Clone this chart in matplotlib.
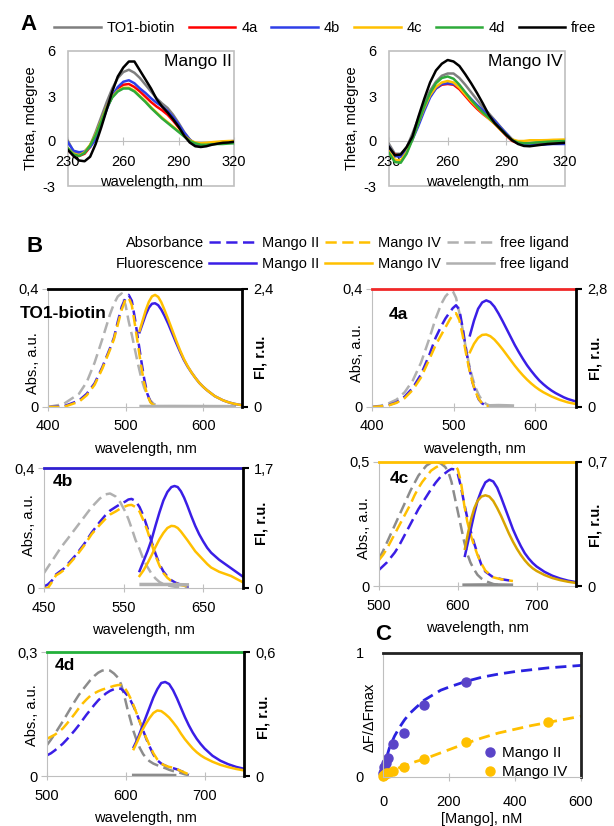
import matplotlib.pyplot as plt
from matplotlib.lines import Line2D
from matplotlib.patches import Rectangle

plt.rcParams['font.family'] = ['Liberation Sans', 'DejaVu Sans']
plt.rcParams['font.size'] = 10.5

W, H = 614, 826

# ---------------- panel A: CD spectra ----------------
cd_wl = [230, 233, 236, 239, 242, 245, 248, 251, 254, 257, 260, 263, 266, 269, 272, 275,
         278, 281, 284, 287, 290, 293, 296, 299, 302, 305, 308, 311, 314, 317, 320]
cd_names = ["TO1-biotin", "4a", "4b", "4c", "4d", "free"]

cd2_to1 = [0.0, -0.7, -0.9, -0.7, -0.3, 0.6, 1.6, 2.6, 3.5, 4.2, 4.6, 4.75, 4.55, 4.2, 3.75, 3.3,
           2.85, 2.5, 2.2, 1.75, 1.2, 0.6, 0.1, -0.2, -0.25, -0.25, -0.2, -0.15, -0.1, -0.08, -0.05]
cd2_4a = [-0.6, -0.95, -1.0, -0.85, -0.4, 0.3, 1.2, 2.2, 3.0, 3.5, 3.75, 3.8, 3.6, 3.3, 2.95, 2.6,
          2.3, 2.05, 1.75, 1.35, 0.9, 0.45, 0.05, -0.25, -0.3, -0.28, -0.2, -0.15, -0.1, -0.08, -0.05]
cd2_4b = [-0.1, -0.65, -0.75, -0.7, -0.4, 0.1, 1.1, 2.1, 3.0, 3.6, 3.95, 4.05, 3.85, 3.5, 3.2, 2.85,
          2.55, 2.3, 2.0, 1.6, 1.1, 0.55, 0.1, -0.2, -0.25, -0.2, -0.15, -0.1, -0.05, -0.02, 0.0]
cd2_4c = [-0.5, -0.85, -0.95, -0.75, -0.25, 0.45, 1.35, 2.25, 2.95, 3.35, 3.55, 3.55, 3.35, 3.0, 2.65, 2.25,
          1.9, 1.55, 1.25, 0.95, 0.65, 0.35, 0.05, -0.1, -0.15, -0.12, -0.08, -0.05, -0.02, 0.0, 0.0]
cd2_4d = [-0.5, -0.9, -1.0, -0.8, -0.3, 0.4, 1.3, 2.2, 2.9, 3.3, 3.5, 3.5, 3.3, 2.95, 2.6, 2.2,
          1.85, 1.5, 1.2, 0.9, 0.6, 0.3, 0.0, -0.15, -0.25, -0.25, -0.22, -0.2, -0.2, -0.17, -0.15]
cd2_free = [-0.6, -1.0, -1.3, -1.35, -1.05, -0.2, 0.9, 2.1, 3.3, 4.3, 4.9, 5.3, 5.3, 4.7, 4.1, 3.5,
            2.8, 2.3, 1.9, 1.45, 0.95, 0.35, -0.1, -0.35, -0.4, -0.35, -0.25, -0.18, -0.12, -0.1, -0.05]

cd4_to1 = [-0.2, -0.85, -0.85, -0.45, 0.5, 1.5, 2.5, 3.35, 3.95, 4.35, 4.5, 4.5, 4.2, 3.75, 3.25, 2.75,
           2.25, 1.85, 1.4, 0.95, 0.5, 0.1, -0.1, -0.2, -0.2, -0.15, -0.12, -0.1, -0.08, -0.06, -0.05]
cd4_4a = [-0.5, -0.9, -1.0, -0.6, 0.2, 1.2, 2.2, 3.0, 3.5, 3.75, 3.8, 3.75, 3.45, 3.0, 2.55, 2.15,
          1.8, 1.5, 1.15, 0.75, 0.35, 0.0, -0.15, -0.2, -0.2, -0.15, -0.12, -0.1, -0.08, -0.06, -0.05]
cd4_4b = [-0.4, -1.0, -1.05, -0.6, 0.1, 1.0, 2.0, 2.9, 3.5, 3.8, 3.85, 3.8, 3.6, 3.2, 2.8, 2.4,
          2.05, 1.7, 1.35, 0.9, 0.5, 0.1, -0.15, -0.25, -0.25, -0.25, -0.25, -0.22, -0.2, -0.2, -0.2]
cd4_4c = [-0.7, -1.25, -1.3, -0.75, 0.15, 1.2, 2.2, 3.05, 3.6, 3.9, 4.0, 3.9, 3.55, 3.1, 2.65, 2.25,
          1.85, 1.5, 1.15, 0.75, 0.4, 0.1, 0.0, 0.0, 0.05, 0.05, 0.05, 0.06, 0.08, 0.09, 0.1]
cd4_4d = [-0.8, -1.4, -1.45, -0.85, 0.1, 1.2, 2.3, 3.2, 3.85, 4.2, 4.3, 4.15, 3.75, 3.25, 2.75, 2.3,
          1.9, 1.55, 1.2, 0.8, 0.4, 0.05, -0.1, -0.15, -0.15, -0.1, -0.08, -0.05, -0.03, -0.01, 0.0]
cd4_free = [-0.4, -0.95, -0.9, -0.4, 0.3, 1.6, 2.8, 3.9, 4.7, 5.15, 5.4, 5.3, 5.0, 4.45, 3.85, 3.2,
            2.5, 1.75, 1.2, 0.8, 0.4, 0.05, -0.2, -0.33, -0.35, -0.3, -0.25, -0.2, -0.18, -0.15, -0.12]

cd_xticks = [230, 260, 290, 320]
cd_yticks = [-3, 0, 3, 6]

# ---------------- panel B: absorbance / fluorescence ----------------
to1_abs_wl = [400, 420, 440, 450, 460, 470, 480, 485, 490, 495, 500, 504, 508, 512, 516, 520,
              524, 528, 532, 536, 540, 548]
to1_abs_m2 = [0.0, 0.002, 0.022, 0.045, 0.08, 0.135, 0.2, 0.235, 0.29, 0.34, 0.37, 0.38, 0.36, 0.3,
              0.23, 0.16, 0.095, 0.045, 0.018, 0.006, 0.002, 0.0]
to1_abs_m4 = [0.0, 0.0, 0.018, 0.04, 0.075, 0.13, 0.195, 0.23, 0.28, 0.33, 0.365, 0.37, 0.345, 0.28,
              0.21, 0.14, 0.08, 0.04, 0.016, 0.006, 0.002, 0.0]
to1_abs_free = [0.0, 0.01, 0.045, 0.085, 0.15, 0.23, 0.315, 0.35, 0.375, 0.385, 0.345, 0.29, 0.245,
                0.195, 0.145, 0.1, 0.065, 0.04, 0.022, 0.011, 0.006, 0.0]
to1_fl_wl = [518, 522, 526, 530, 534, 538, 542, 546, 550, 555, 560, 565, 570, 575, 580, 585, 590,
             595, 600, 605, 610, 615, 620, 625, 630, 635, 640, 645, 650]
to1_fl_m2 = [1.52, 1.7, 1.88, 2.02, 2.1, 2.11, 2.07, 1.98, 1.86, 1.69, 1.5, 1.31, 1.13, 0.96, 0.82,
             0.7, 0.59, 0.49, 0.41, 0.34, 0.28, 0.22, 0.18, 0.14, 0.11, 0.085, 0.065, 0.05, 0.04]
to1_fl_m4 = [1.55, 1.76, 1.97, 2.14, 2.25, 2.28, 2.24, 2.13, 1.98, 1.78, 1.57, 1.36, 1.16, 0.98, 0.83,
             0.7, 0.59, 0.49, 0.41, 0.34, 0.28, 0.22, 0.18, 0.14, 0.11, 0.085, 0.065, 0.05, 0.035]
to1_flfree_wl = [520, 560, 600, 640]
to1_fl_free = [0.01, 0.012, 0.01, 0.008]

c4a_abs_wl = [400, 410, 420, 430, 440, 450, 460, 470, 478, 485, 490, 495, 499, 503, 507, 511, 515,
              519, 523, 527, 531, 535, 540, 545, 555]
c4a_abs_free = [0, 0.004, 0.012, 0.025, 0.05, 0.09, 0.15, 0.23, 0.3, 0.35, 0.375, 0.39, 0.393, 0.37,
                0.32, 0.265, 0.2, 0.145, 0.1, 0.065, 0.04, 0.022, 0.01, 0.004, 0]
c4a_abs_m2 = [0, 0.002, 0.006, 0.016, 0.035, 0.065, 0.11, 0.175, 0.235, 0.275, 0.3, 0.32, 0.335, 0.345,
              0.33, 0.27, 0.2, 0.135, 0.085, 0.05, 0.025, 0.012, 0.005, 0.002, 0]
c4a_abs_m4 = [0, 0.002, 0.005, 0.014, 0.03, 0.058, 0.1, 0.16, 0.21, 0.245, 0.27, 0.295, 0.312, 0.318,
              0.295, 0.245, 0.185, 0.13, 0.085, 0.05, 0.027, 0.012, 0.005, 0.002, 0]
c4a_fl_wl = [520, 525, 530, 535, 540, 545, 550, 555, 560, 565, 570, 575, 580, 585, 590, 595, 600,
             605, 610, 615, 620, 625, 630, 635, 640, 645, 650]
c4a_fl_m2 = [1.7, 2.05, 2.33, 2.48, 2.53, 2.49, 2.38, 2.22, 2.04, 1.85, 1.66, 1.47, 1.3, 1.14, 0.99,
             0.86, 0.74, 0.63, 0.54, 0.46, 0.39, 0.33, 0.28, 0.23, 0.19, 0.16, 0.13]
c4a_fl_m4 = [1.3, 1.5, 1.64, 1.71, 1.72, 1.68, 1.6, 1.49, 1.37, 1.24, 1.11, 0.98, 0.86, 0.75, 0.65,
             0.56, 0.48, 0.41, 0.35, 0.3, 0.25, 0.21, 0.17, 0.14, 0.11, 0.09, 0.07]
c4a_flfree_wl = [545, 555, 565, 572]
c4a_fl_free = [0.03, 0.035, 0.03, 0.025]

c4b_abs_wl = [450, 455, 460, 465, 470, 475, 480, 490, 500, 510, 520, 527, 533, 540, 546, 552, 556,
              560, 565, 570, 575, 580, 585, 590, 595, 600, 605, 610, 615, 620, 625, 632]
c4b_abs_free = [0.05, 0.07, 0.09, 0.11, 0.13, 0.148, 0.165, 0.2, 0.235, 0.27, 0.298, 0.312, 0.315,
                0.305, 0.285, 0.255, 0.23, 0.2, 0.16, 0.13, 0.095, 0.07, 0.048, 0.032, 0.02, 0.013,
                0.009, 0.006, 0.004, 0.002, 0.001, 0.0]
c4b_abs_m2 = [0.005, 0.012, 0.025, 0.045, 0.055, 0.065, 0.08, 0.11, 0.145, 0.185, 0.22, 0.242, 0.258,
              0.27, 0.28, 0.288, 0.295, 0.297, 0.29, 0.27, 0.24, 0.2, 0.155, 0.115, 0.08, 0.055,
              0.038, 0.026, 0.018, 0.013, 0.009, 0.005]
c4b_abs_m4 = [0.0, 0.0, 0.02, 0.042, 0.05, 0.06, 0.075, 0.105, 0.14, 0.18, 0.21, 0.23, 0.245, 0.255,
              0.265, 0.272, 0.276, 0.277, 0.27, 0.255, 0.225, 0.19, 0.148, 0.108, 0.075, 0.05,
              0.034, 0.023, 0.016, 0.011, 0.008, 0.005]
c4b_fl_wl = [570, 575, 580, 585, 590, 595, 600, 605, 610, 614, 618, 622, 626, 630, 635, 640, 645,
             650, 655, 660, 665, 670, 675, 680, 685, 690, 695, 700]
c4b_fl_m2 = [0.24, 0.38, 0.52, 0.68, 0.88, 1.07, 1.24, 1.36, 1.43, 1.445, 1.43, 1.37, 1.28, 1.17, 1.02,
             0.88, 0.76, 0.66, 0.57, 0.5, 0.45, 0.4, 0.36, 0.32, 0.28, 0.24, 0.2, 0.16]
c4b_fl_m4 = [0.17, 0.25, 0.35, 0.46, 0.58, 0.69, 0.78, 0.85, 0.88, 0.875, 0.85, 0.8, 0.74, 0.68, 0.6,
             0.52, 0.46, 0.4, 0.34, 0.29, 0.26, 0.23, 0.21, 0.19, 0.17, 0.14, 0.11, 0.08]
c4b_flfree_wl = [572, 590, 610, 630]
c4b_fl_free = [0.05, 0.05, 0.05, 0.045]

c4c_abs_wl = [500, 505, 510, 515, 520, 525, 530, 535, 540, 545, 550, 555, 560, 566, 572, 578, 584,
              588, 592, 596, 600, 604, 608, 612, 616, 620, 625, 630, 635, 645, 655, 660, 670]
c4c_abs_free = [0.11, 0.14, 0.175, 0.21, 0.245, 0.28, 0.315, 0.35, 0.385, 0.415, 0.445, 0.465, 0.485,
                0.497, 0.5, 0.495, 0.48, 0.46, 0.42, 0.36, 0.3, 0.24, 0.18, 0.13, 0.095, 0.07, 0.045,
                0.03, 0.02, 0.008, 0.003, 0.002, 0.0]
c4c_abs_m2 = [0.065, 0.08, 0.095, 0.115, 0.135, 0.16, 0.19, 0.22, 0.25, 0.28, 0.31, 0.335, 0.36,
              0.39, 0.417, 0.44, 0.455, 0.465, 0.472, 0.47, 0.452, 0.4, 0.335, 0.275, 0.225, 0.18,
              0.13, 0.085, 0.058, 0.035, 0.028, 0.025, 0.02]
c4c_abs_m4 = [0.105, 0.125, 0.15, 0.18, 0.21, 0.24, 0.27, 0.3, 0.33, 0.365, 0.395, 0.42, 0.44, 0.465,
              0.478, 0.488, 0.495, 0.499, 0.5, 0.488, 0.47, 0.42, 0.33, 0.26, 0.21, 0.17, 0.125,
              0.09, 0.062, 0.035, 0.027, 0.025, 0.02]
c4c_fl_wl = [609, 613, 617, 621, 625, 630, 635, 640, 645, 650, 655, 660, 665, 670, 675, 680, 685,
             690, 695, 700, 710, 720, 730, 740, 750]
c4c_fl_m2 = [0.17, 0.25, 0.33, 0.41, 0.48, 0.54, 0.585, 0.6, 0.59, 0.555, 0.5, 0.44, 0.38, 0.32, 0.27,
             0.225, 0.185, 0.155, 0.13, 0.11, 0.08, 0.058, 0.042, 0.03, 0.022]
c4c_fl_m4 = [0.21, 0.3, 0.38, 0.44, 0.48, 0.505, 0.512, 0.505, 0.48, 0.44, 0.395, 0.345, 0.295, 0.25,
             0.21, 0.175, 0.145, 0.12, 0.1, 0.085, 0.062, 0.045, 0.033, 0.024, 0.017]
c4c_flfree_wl = [608, 630, 650, 668]
c4c_fl_free = [0.005, 0.006, 0.006, 0.005]

c4d_abs_wl = [500, 505, 510, 515, 520, 525, 530, 535, 540, 545, 550, 555, 560, 565, 570, 575, 580,
              585, 590, 594, 598, 602, 606, 610, 614, 618, 622, 626, 630, 635, 640, 645, 650, 655,
              660, 665, 670, 675, 680]
c4d_abs_free = [0.075, 0.088, 0.102, 0.117, 0.132, 0.148, 0.164, 0.18, 0.195, 0.208, 0.22, 0.232,
                0.242, 0.25, 0.255, 0.257, 0.255, 0.248, 0.238, 0.222, 0.195, 0.163, 0.135, 0.107,
                0.085, 0.067, 0.053, 0.043, 0.036, 0.03, 0.026, 0.022, 0.019, 0.015, 0.012, 0.01,
                0.007, 0.004, 0.002]
c4d_abs_m2 = [0.05, 0.055, 0.062, 0.07, 0.078, 0.088, 0.099, 0.11, 0.122, 0.135, 0.148, 0.16, 0.172,
              0.183, 0.192, 0.2, 0.206, 0.21, 0.212, 0.211, 0.204, 0.195, 0.183, 0.168, 0.15, 0.13,
              0.11, 0.09, 0.072, 0.052, 0.038, 0.03, 0.025, 0.022, 0.019, 0.016, 0.012, 0.008, 0.004]
c4d_abs_m4 = [0.09, 0.095, 0.1, 0.107, 0.115, 0.126, 0.138, 0.15, 0.163, 0.175, 0.185, 0.194, 0.2,
              0.205, 0.209, 0.212, 0.215, 0.218, 0.22, 0.22, 0.215, 0.203, 0.188, 0.17, 0.15, 0.13,
              0.11, 0.092, 0.075, 0.055, 0.04, 0.03, 0.025, 0.022, 0.02, 0.017, 0.012, 0.008, 0.004]
c4d_fl_wl = [610, 615, 620, 625, 630, 635, 640, 645, 650, 655, 660, 665, 670, 675, 680, 685, 690,
             695, 700, 710, 720, 730, 740, 750]
c4d_fl_m2 = [0.14, 0.18, 0.23, 0.28, 0.33, 0.38, 0.42, 0.45, 0.455, 0.445, 0.415, 0.375, 0.33, 0.285,
             0.245, 0.21, 0.18, 0.155, 0.133, 0.098, 0.074, 0.057, 0.044, 0.035]
c4d_fl_m4 = [0.13, 0.17, 0.215, 0.25, 0.28, 0.305, 0.317, 0.314, 0.3, 0.283, 0.26, 0.235, 0.205,
             0.178, 0.155, 0.133, 0.115, 0.1, 0.088, 0.069, 0.054, 0.043, 0.034, 0.027]
c4d_flfree_wl = [610, 630, 650, 662]
c4d_fl_free = [0.003, 0.003, 0.003, 0.002]

# ---------------- panel C: titration ----------------
c_conc_m2 = [0.98, 1.95, 3.9, 7.8, 15.6, 31.25, 62.5, 125, 250]
c_resp_m2 = [0.03, 0.05, 0.08, 0.11, 0.15, 0.27, 0.355, 0.58, 0.77]
c_conc_m4 = [0.98, 1.95, 3.9, 7.8, 15.6, 31.25, 62.5, 125, 250, 500]
c_resp_m4 = [0.01, 0.015, 0.02, 0.03, 0.035, 0.045, 0.08, 0.145, 0.28, 0.44]
fit_conc = [0, 5, 10, 20, 35, 50, 65, 80, 100, 125, 150, 175, 200, 250, 300, 350, 400, 450, 500, 550, 600]
fit_m2 = [0.02, 0.09, 0.15, 0.24, 0.33, 0.4, 0.46, 0.51, 0.56, 0.62, 0.66, 0.7, 0.725, 0.77, 0.805,
          0.83, 0.85, 0.865, 0.88, 0.89, 0.9]
fit_m4 = [0.01, 0.025, 0.035, 0.045, 0.06, 0.075, 0.09, 0.105, 0.125, 0.145, 0.17, 0.195, 0.22, 0.27,
          0.315, 0.355, 0.385, 0.415, 0.44, 0.465, 0.49]

# colours
BLUE = "#3A1EE6"
ORANGE = "#FFC000"
GOLD = "#D9A400"
GREY_L = "#B0B0B0"
GREY_D = "#8C8C8C"
FRAME = "#BFBFBF"
CD_COLORS = ["#7F7F7F", "#FF0000", "#2F3FE8", "#FFC000", "#2EAA3A", "#000000"]
DASH = (4.5, 2.2)

fig = plt.figure(figsize=(W / 100, H / 100), dpi=100)


def box(l, t, r, b):
    return [l / W, 1 - b / H, (r - l) / W, (b - t) / H]


def cd_panel(px, curves, name):
    ax = fig.add_axes(box(*px))
    w = px[2] - px[0]
    lines = []
    for ys, col in zip(curves, CD_COLORS):
        lines += ax.plot(cd_wl, ys, color=col, lw=1.8)
    ax.set_xlim(230, 320)
    ax.set_ylim(-3, 6)
    for side in ['left', 'top', 'right']:
        ax.spines[side].set_visible(False)
    ax.spines['bottom'].set_position(('data', 0))
    ax.spines['bottom'].set_color(FRAME)
    ax.spines['bottom'].set_zorder(0.5)
    ax.add_patch(Rectangle((0, 0), 1, 1, transform=ax.transAxes, fill=False,
                           ec=FRAME, lw=1.2, clip_on=False, zorder=0))
    ax.set_xticks(cd_xticks)
    ax.set_yticks(cd_yticks, [str(v) for v in cd_yticks])
    ax.tick_params(axis='x', direction='inout', length=6, color=FRAME, pad=7)
    ax.tick_params(axis='y', length=0, pad=9)
    ax.set_xlabel('wavelength, nm')
    ax.xaxis.set_label_coords(0.5, 0.085)
    ax.set_ylabel('Theta, mdegree')
    ax.yaxis.set_label_coords(-30 / w, 0.5)
    ax.text(0.985, 0.925, name, transform=ax.transAxes, ha='right', va='center', fontsize=12.5)
    return lines


lines_a = cd_panel((68, 51, 234, 186), [cd2_to1, cd2_4a, cd2_4b, cd2_4c, cd2_4d, cd2_free], "Mango II")
cd_panel((389, 51, 565, 186), [cd4_to1, cd4_4a, cd4_4b, cd4_4c, cd4_4d, cd4_free], "Mango IV")

fig.legend(lines_a, cd_names, ncol=6, loc='center left', bbox_to_anchor=(54 / W, 1 - 28 / H),
           frameon=False, handlelength=3.2, handletextpad=0.4, columnspacing=0.95,
           borderpad=0, borderaxespad=0, fontsize=10.5)


def spec_panel(px, xlim, xticks, abs_max, abs_lbl, fl_max, fl_lbl, top_col, name, name_x, name_y,
               abs_wl, abs_m2, abs_m4, abs_free, fl_wl, fl_m2, fl_m4, flf_wl, fl_free,
               abs_ylab_y, fl_ylab_y, abs_ylabel='Abs., a.u.', fl4_col=ORANGE,
               free_col=GREY_L, freefl_col=GREY_L):
    ax = fig.add_axes(box(*px))
    w = px[2] - px[0]
    ax.plot(abs_wl, abs_free, color=free_col, lw=1.8, dashes=DASH)
    ax.plot(abs_wl, abs_m2, color=BLUE, lw=1.8, dashes=DASH)
    ax.plot(abs_wl, abs_m4, color=ORANGE, lw=1.8, dashes=DASH)
    ax.set_xlim(*xlim)
    ax.set_ylim(0, abs_max)
    ax.set_xticks(xticks)
    ax.set_yticks([0, abs_max], ['0', abs_lbl])
    ax.spines['right'].set_visible(False)
    ax.spines['left'].set_color(FRAME)
    ax.spines['bottom'].set_color(FRAME)
    ax.spines['top'].set_color(top_col)
    ax.spines['top'].set_linewidth(2)
    ax.tick_params(axis='x', direction='inout', length=6, color=FRAME, pad=6)
    ax.tick_params(axis='y', direction='out', length=4, color=FRAME, pad=3)
    ax.set_xlabel('wavelength, nm', labelpad=6)
    ax.set_ylabel(abs_ylabel)
    ax.yaxis.set_label_coords(-8 / w, abs_ylab_y)
    ax.text(name_x, name_y, name, transform=ax.transAxes, fontweight='bold',
            fontsize=12.5, ha='left', va='center')

    ax2 = ax.twinx()
    ax2.plot(flf_wl, fl_free, color=freefl_col, lw=2.5)
    ax2.plot(fl_wl, fl_m2, color=BLUE, lw=1.8)
    ax2.plot(fl_wl, fl_m4, color=fl4_col, lw=1.8)
    ax2.set_ylim(0, fl_max)
    ax2.set_yticks([0, fl_max], ['0', fl_lbl])
    for side in ['left', 'top', 'bottom']:
        ax2.spines[side].set_visible(False)
    ax2.spines['right'].set_color('black')
    ax2.spines['right'].set_linewidth(2)
    ax2.tick_params(axis='y', direction='out', length=4, width=1.5, color='black', pad=4)
    ax2.set_ylabel('Fl, r.u.', fontweight='bold')
    ax2.yaxis.set_label_coords(1 + 12 / w, fl_ylab_y)
    return ax


spec_panel((48, 289, 242, 407), (400, 650), [400, 500, 600], 0.4, '0,4', 2.4, '2,4', 'black',
           'TO1-biotin', -0.147, 0.79,
           to1_abs_wl, to1_abs_m2, to1_abs_m4, to1_abs_free, to1_fl_wl, to1_fl_m2, to1_fl_m4,
           to1_flfree_wl, to1_fl_free, 0.37, 0.42)
spec_panel((372, 289, 576, 407), (400, 650), [400, 500, 600], 0.4, '0,4', 2.8, '2,8', '#F02828',
           '4a', 0.083, 0.78,
           c4a_abs_wl, c4a_abs_m2, c4a_abs_m4, c4a_abs_free, c4a_fl_wl, c4a_fl_m2, c4a_fl_m4,
           c4a_flfree_wl, c4a_fl_free, 0.46, 0.41, abs_ylabel='Abs, a.u.')
spec_panel((44, 468, 243, 588), (450, 700), [450, 550, 650], 0.4, '0,4', 1.7, '1,7', '#3020D0',
           '4b', 0.045, 0.89,
           c4b_abs_wl, c4b_abs_m2, c4b_abs_m4, c4b_abs_free, c4b_fl_wl, c4b_fl_m2, c4b_fl_m4,
           c4b_flfree_wl, c4b_fl_free, 0.52, 0.54)
spec_panel((379, 462, 576, 586), (500, 750), [500, 600, 700], 0.5, '0,5', 0.7, '0,7', ORANGE,
           '4c', 0.056, 0.87,
           c4c_abs_wl, c4c_abs_m2, c4c_abs_m4, c4c_abs_free, c4c_fl_wl, c4c_fl_m2, c4c_fl_m4,
           c4c_flfree_wl, c4c_fl_free, 0.47, 0.49, fl4_col=GOLD, free_col=GREY_D, freefl_col=GREY_D)
spec_panel((47, 652, 244, 776), (500, 750), [500, 600, 700], 0.3, '0,3', 0.6, '0,6', '#22B03A',
           '4d', 0.04, 0.89,
           c4d_abs_wl, c4d_abs_m2, c4d_abs_m4, c4d_abs_free, c4d_fl_wl, c4d_fl_m2, c4d_fl_m4,
           c4d_flfree_wl, c4d_fl_free, 0.49, 0.47, free_col=GREY_D, freefl_col=GREY_D)

# legend of panel B
row_kw = dict(ncol=3, loc='center left', frameon=False, handlelength=3.2, handletextpad=0.4,
              columnspacing=0.45, borderpad=0, borderaxespad=0, fontsize=10.5)
b_labels = ["Mango II", "Mango IV", "free ligand"]
abs_handles = [Line2D([], [], color=BLUE, lw=1.8, dashes=DASH),
               Line2D([], [], color=ORANGE, lw=1.8, dashes=DASH),
               Line2D([], [], color=GREY_L, lw=1.8, dashes=DASH)]
fl_handles = [Line2D([], [], color=BLUE, lw=1.8),
              Line2D([], [], color=ORANGE, lw=1.8),
              Line2D([], [], color=GREY_L, lw=1.8)]
fig.legend(abs_handles, b_labels, bbox_to_anchor=(209 / W, 1 - 243 / H), **row_kw)
fig.legend(fl_handles, b_labels, bbox_to_anchor=(209 / W, 1 - 264 / H), **row_kw)
fig.text(204 / W, 1 - 243 / H, "Absorbance", ha='right', va='center', fontsize=10.5)
fig.text(204 / W, 1 - 264 / H, "Fluorescence", ha='right', va='center', fontsize=10.5)

# panel C
axc = fig.add_axes(box(383, 653, 581, 777))
axc.plot(fit_conc, fit_m2, color='#2A22E0', lw=2, dashes=(4, 2.2))
axc.plot(fit_conc, fit_m4, color=ORANGE, lw=2, dashes=(4, 2.2))
axc.plot(c_conc_m2, c_resp_m2, 'o', ms=6.5, color='#5A44C8', ls='none', label='Mango II', clip_on=False)
axc.plot(c_conc_m4, c_resp_m4, 'o', ms=6.5, color=ORANGE, ls='none', label='Mango IV', clip_on=False)
axc.set_xlim(0, 600)
axc.set_ylim(0, 1)
axc.set_xticks([0, 200, 400, 600])
axc.set_yticks([0, 1], ['0', '1'])
axc.spines['left'].set_color(FRAME)
axc.spines['bottom'].set_color(FRAME)
for side in ['top', 'right']:
    axc.spines[side].set_color('#222222')
    axc.spines[side].set_linewidth(2)
axc.tick_params(axis='x', direction='inout', length=6, color=FRAME, pad=10)
axc.tick_params(axis='y', length=0, pad=14)
axc.set_xlabel('[Mango], nM', labelpad=2)
axc.set_ylabel('ΔF/ΔFmax')
axc.yaxis.set_label_coords(-6 / 198, 0.48)
axc.legend(loc='lower right', bbox_to_anchor=(0.93, -0.02), frameon=False, fontsize=11,
           handletextpad=0.2, labelspacing=0.35, borderpad=0, borderaxespad=0, handlelength=1.2)

# panel letters
fig.text(20 / W, 1 - 24 / H, "A", fontsize=16, fontweight='bold', va='center')
fig.text(27 / W, 1 - 246 / H, "B", fontsize=16, fontweight='bold', va='center')
fig.text(375 / W, 1 - 635 / H, "C", fontsize=16, fontweight='bold', va='center')

fig.savefig("out.png", dpi=100)
